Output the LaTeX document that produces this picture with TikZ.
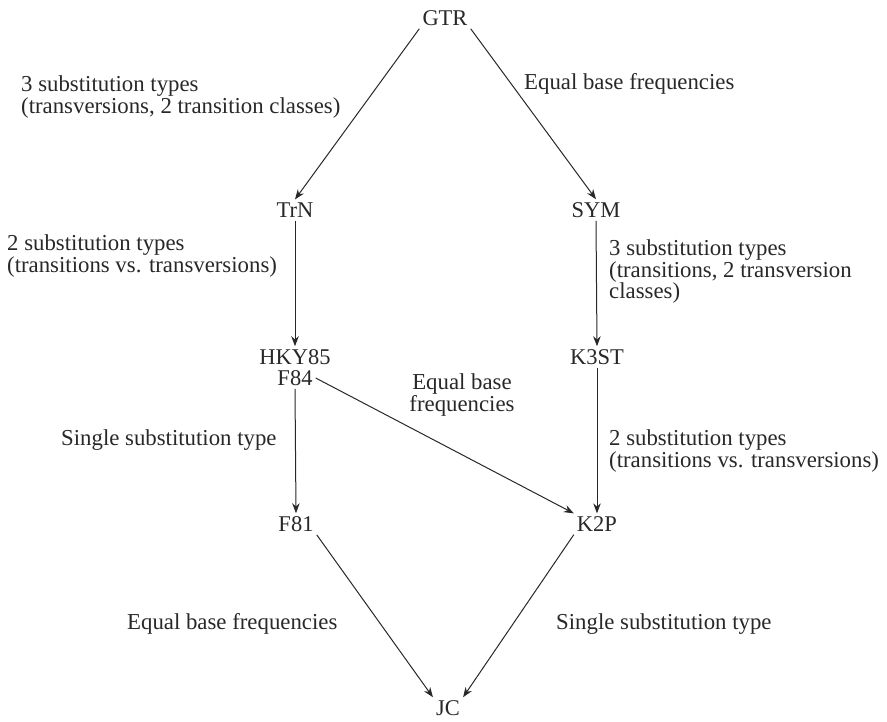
\documentclass[tikz,border=0pt]{standalone}
\usepackage{fontspec}
\setmainfont{Liberation Serif}
\usetikzlibrary{arrows.meta}
\definecolor{ink}{RGB}{40,40,40}
\begin{document}
\begin{tikzpicture}[x=1pt,y=-1pt,
  model/.style={inner sep=3pt,text=ink,font=\fontsize{22.5}{22}\selectfont},
  lab/.style={inner sep=0pt,text=ink,align=left,font=\fontsize{22.8}{21.5}\selectfont},
  arr/.style={draw=ink,line width=1pt,-{Stealth[length=10pt,width=7.5pt]}}]
\useasboundingbox (0,0) rectangle (887,721);
% models
\node[model] (gtr) at (445,18) {GTR};
\node[model] (trn) at (295,210) {TrN};
\node[model] (sym) at (596,210) {SYM};
\node[model] (hky) at (295,357) {HKY85};
\node[model] (f84) at (295,378) {F84};
\node[model] (k3st) at (597,357) {K3ST};
\node[model] (f81) at (296,524) {F81};
\node[model] (k2p) at (597,524) {K2P};
\node[model] (jc) at (448,708) {JC};
% connectors
\draw[arr] (gtr.south west) -- (trn.north);
\draw[arr] (gtr.south east) -- (sym.north);
\draw[arr] (trn.south) -- (hky.north);
\draw[arr] (sym.south) -- (k3st.north);
\draw[arr] (f84.south) -- (f81.north);
\draw[arr] (f84.east) -- (k2p.north west);
\draw[arr] (k3st.south) -- (k2p.north);
\draw[arr] (f81.south east) -- (jc.north west);
\draw[arr] (k2p.south west) -- (jc.north east);
% labels
\node[lab,anchor=west] (l1) at (21,97) {3 substitution types\\(transversions, 2 transition classes)};
\node[lab,anchor=west] (l2) at (524,84) {Equal base frequencies};
\node[lab,anchor=west] (l3) at (7,256) {2 substitution types\\(transitions vs. transversions)};
\node[lab,anchor=west] (l4) at (609,272) {3 substitution types\\(transitions, 2 transversion\\classes)};
\node[lab,align=center] (l5) at (462,395) {Equal base\\frequencies};
\node[lab,anchor=west] (l6) at (61,440) {Single substitution type};
\node[lab,anchor=west] (l7) at (609,451) {2 substitution types\\(transitions vs. transversions)};
\node[lab,anchor=west] (l8) at (127,624) {Equal base frequencies};
\node[lab,anchor=west] (l9) at (556,624) {Single substitution type};
\end{tikzpicture}
\end{document}
